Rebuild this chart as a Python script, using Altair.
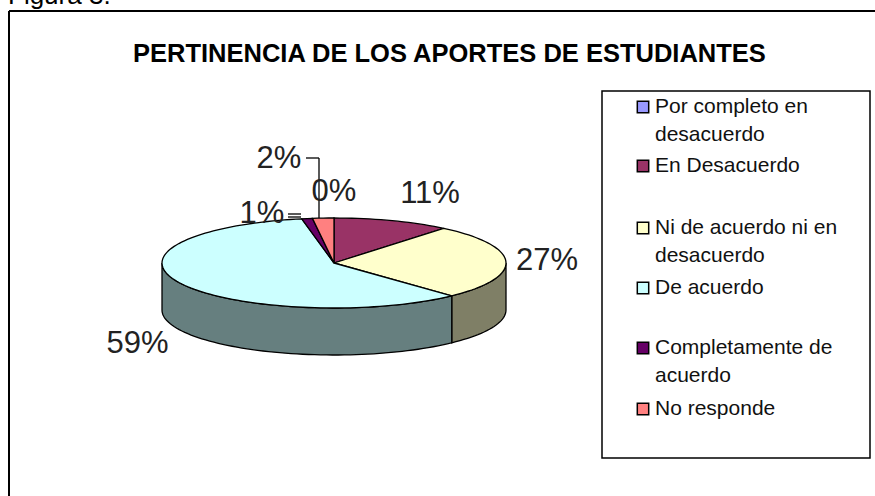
import math
import altair as alt
import pandas as pd

TITLE = "PERTINENCIA DE LOS APORTES DE ESTUDIANTES"
CATEGORIES = ["Por completo en desacuerdo", "En Desacuerdo", "Ni de acuerdo ni en desacuerdo",
              "De acuerdo", "Completamente de acuerdo", "No responde"]
VALUES = [0, 11, 27, 59, 1, 2]
TOP_COLORS = ["#9999FF", "#993366", "#FFFFCC", "#CCFFFF", "#660066", "#FF8080"]
SIDE_COLORS = ["#4D4D80", "#4D1A33", "#7F7F66", "#667F7F", "#330033", "#804040"]

FONT = "Liberation Sans"
CX, CY, RX, RY, DEPTH = 334, 263, 172, 45, 47


def pt(angle_deg, drop=0.0):
    a = math.radians(angle_deg)
    return math.sin(a), math.cos(a) - drop


def arc_angles(a0, a1):
    n = max(2, int(abs(a1 - a0) / 2) + 2)
    return [a0 + (a1 - a0) * i / (n - 1) for i in range(n)]


top_rows, side_rows = [], []
cum = 0.0
total = sum(VALUES)
drop = DEPTH / RY
for cat, val in zip(CATEGORIES, VALUES):
    a0 = cum / total * 360
    cum += val
    a1 = cum / total * 360
    if val == 0:
        continue
    pts = [(0.0, 0.0)] + [pt(a) for a in arc_angles(a0, a1)]
    for i, (u, v) in enumerate(pts):
        top_rows.append({"cat": cat, "u": u, "v": v, "i": i})
    s0, s1 = max(a0, 90), min(a1, 270)
    if s1 > s0:
        angs = arc_angles(s0, s1)
        pts = [pt(a) for a in angs] + [pt(a, drop) for a in reversed(angs)]
        for i, (u, v) in enumerate(pts):
            side_rows.append({"cat": cat, "u": u, "v": v, "i": i})

xs = alt.Scale(domain=[-1, 1], range=[CX - RX, CX + RX])
ys = alt.Scale(domain=[-1, 1], range=[CY + RY, CY - RY])
X = alt.X("u:Q", scale=xs, axis=None)
Y = alt.Y("v:Q", scale=ys, axis=None)


def polygons(rows, colors):
    return alt.Chart(pd.DataFrame(rows)).mark_line(
        interpolate="linear-closed", stroke="#000000", strokeWidth=1.3
    ).encode(
        x=X, y=Y, order="i:Q", detail="cat:N",
        fill=alt.Fill("cat:N", scale=alt.Scale(domain=CATEGORIES, range=colors), legend=None),
    )


def label(text, x, y, size, weight="normal", align="left", baseline="middle", color="#000000"):
    return alt.Chart(pd.DataFrame({"t": [text]})).mark_text(
        font=FONT, fontSize=size, fontWeight=weight, align=align, baseline=baseline, color=color
    ).encode(x=alt.value(x), y=alt.value(y), text="t:N")


def seg(x0, y0, x1, y1, w=1.3, color="#000000"):
    return alt.Chart(pd.DataFrame({"k": [0]})).mark_rule(color=color, strokeWidth=w).encode(
        x=alt.value(x0), x2=alt.value(x1),
        y=alt.value(y0), y2=alt.value(y1),
    )


layers = [
    seg(9, 11, 875, 11, 2),
    seg(9, 11, 9, 496, 2),
    label("Figura 3.", 8, 4, 26, baseline="alphabetic"),
    label(TITLE, 133, 62, 25.5, weight="bold", baseline="alphabetic"),
    polygons(side_rows, SIDE_COLORS),
    polygons(top_rows, TOP_COLORS),
]

# leader lines
layers += [seg(306, 158, 319, 158), seg(319, 158, 319, 218), seg(288, 214, 301, 214), seg(288, 217, 301, 217)]

# data labels
LABEL_TEXT = ["2%", "0%", "11%", "27%", "59%", "1%"]
LABEL_X = [279, 334, 430, 547, 137.5, 262]
LABEL_Y = [158.5, 191.5, 193.5, 261, 344, 213.5]
for t, x, y in zip(LABEL_TEXT, LABEL_X, LABEL_Y):
    layers.append(label(t, x, y, 31, align="center", color="#222222"))

# legend box
layers.append(
    alt.Chart(pd.DataFrame({"k": [0]})).mark_rect(fill="#FFFFFF", stroke="#000000", strokeWidth=1.5).encode(
        x=alt.value(602), x2=alt.value(870),
        y=alt.value(91), y2=alt.value(458),
    )
)

LEGEND_ROWS = [107, 166, 228, 288, 348, 409]
LEGEND_LINES = [["Por completo en", "desacuerdo"], ["En Desacuerdo"], ["Ni de acuerdo ni en", "desacuerdo"],
                ["De acuerdo"], ["Completamente de", "acuerdo"], ["No responde"]]
for row_y, lines, col in zip(LEGEND_ROWS, LEGEND_LINES, TOP_COLORS):
    layers.append(
        alt.Chart(pd.DataFrame({"k": [0]})).mark_square(size=130, fill=col, stroke="#000000", strokeWidth=1.5, opacity=1).encode(
            x=alt.value(643), y=alt.value(row_y)
        )
    )
    for j, line in enumerate(lines):
        layers.append(label(line, 655, row_y + j * 28, 21, color="#111111"))

chart = alt.layer(*layers).resolve_scale(fill="independent").properties(
    width=875, height=496, padding=0, background="#FFFFFF",
    autosize=alt.AutoSizeParams(type="none"),
).configure_view(stroke=None)

chart.save("out.html", embed_options={"renderer": "svg", "actions": False,
                                      "defaultStyle": "html,body{margin:0;padding:0;overflow:hidden}"})
